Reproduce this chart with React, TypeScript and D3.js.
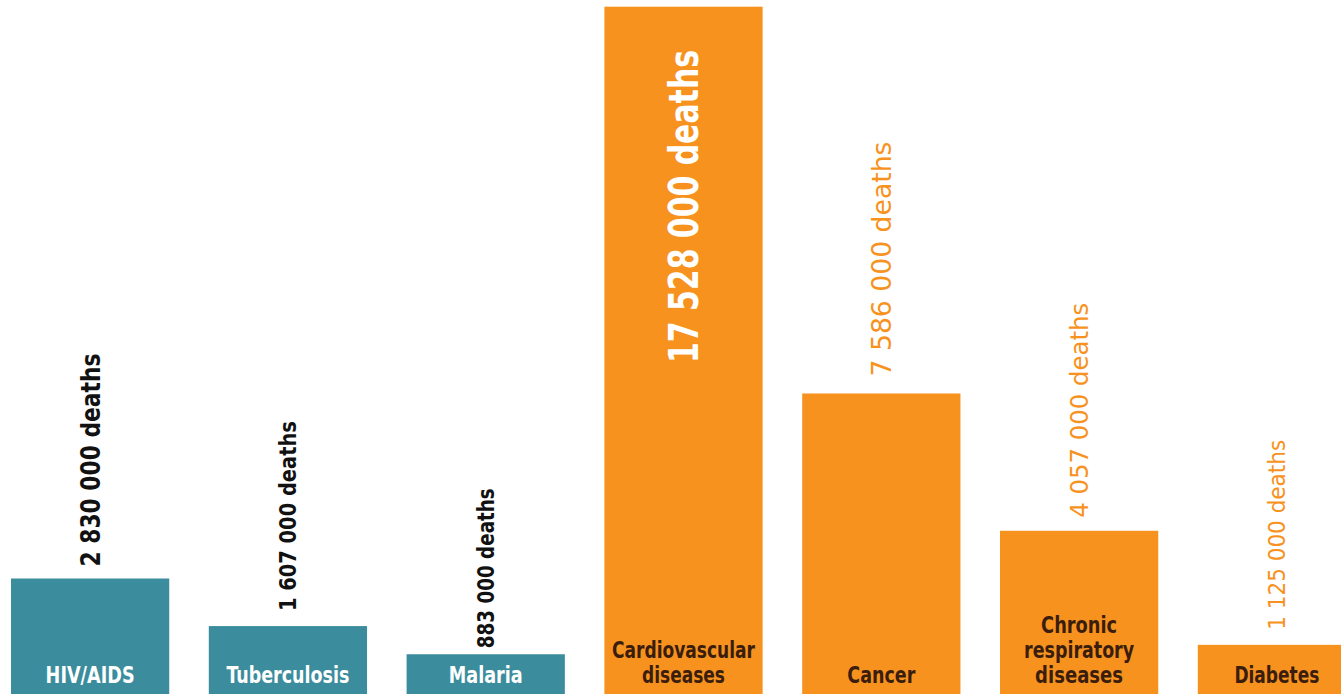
import React from "react";
import * as d3 from "d3";

const categories = [
  "HIV/AIDS",
  "Tuberculosis",
  "Malaria",
  "Cardiovascular diseases",
  "Cancer",
  "Chronic respiratory diseases",
  "Diabetes",
];
const deaths = [2830000, 1607000, 883000, 17528000, 7586000, 4057000, 1125000];
const valueLabels = [
  "2 830 000 deaths",
  "1 607 000 deaths",
  "883 000 deaths",
  "17 528 000 deaths",
  "7 586 000 deaths",
  "4 057 000 deaths",
  "1 125 000 deaths",
];
const groupOf = ["infectious", "infectious", "infectious", "ncd", "ncd", "ncd", "ncd"];
const categoryLines = [
  ["HIV/AIDS"],
  ["Tuberculosis"],
  ["Malaria"],
  ["Cardiovascular", "diseases"],
  ["Cancer"],
  ["Chronic", "respiratory", "diseases"],
  ["Diabetes"],
];

// styling (kept apart from the data)
const W = 1341;
const H = 698;
const barColor: Record<string, string> = { infectious: "#3b8d9d", ncd: "#f7921e" };
const catTextColor: Record<string, string> = { infectious: "#ffffff", ncd: "#3a1d0c" };
const valueStyle = [
  { size: 27, len: 213, color: "#111111", weight: 700, gap: 12, inside: false },
  { size: 23, len: 190, color: "#111111", weight: 700, gap: 15, inside: false },
  { size: 23, len: 160, color: "#111111", weight: 700, gap: 6, inside: false },
  { size: 40, len: 313, color: "#ffffff", weight: 700, gap: 0, inside: true },
  { size: 27, len: 235, color: "#f7921e", weight: 400, gap: 17, inside: false },
  { size: 25, len: 215, color: "#f7921e", weight: 400, gap: 13, inside: false },
  { size: 23, len: 190, color: "#f7921e", weight: 400, gap: 15, inside: false },
];
const catWidths = [[89], [123], [74], [143, 83], [68], [76, 110, 88], [85]];
const FONT = "'Liberation Sans Narrow', 'DejaVu Sans Condensed', 'Arial Narrow', sans-serif";

export default function App() {
  const x = d3
    .scaleBand<string>()
    .domain(categories)
    .range([11, 11 + 6.8 * 197.8 / (1 - 0.2) * 0.8 + 0.2 * 197.8 * 0 ])
    .paddingInner(0.2)
    .paddingOuter(0);
  // recompute range so that step ≈ 197.8 px
  const step = 197.8;
  x.range([11, 11 + step * 7 - step * 0.2]);

  const y = d3.scaleLinear().domain([0, d3.max(deaths) as number]).range([688.6, 6.7]);
  const barBottom = 694;

  return (
    <svg
      width={W}
      height={H}
      style={{ position: "absolute", left: 0, top: 0, background: "#ffffff" }}
      fontFamily={FONT}
    >
      <rect x={0} y={0} width={W} height={H} fill="#ffffff" />
      {categories.map((c, i) => {
        const x0 = x(c) as number;
        const bw = x.bandwidth();
        const cx = x0 + bw / 2;
        const top = y(deaths[i]);
        const g = groupOf[i];
        const vs = valueStyle[i];
        const lines = categoryLines[i];
        const lineH = 25;
        const lastBase = 683;
        const labelStart = vs.inside ? 363 : top - vs.gap;
        return (
          <g key={c}>
            <rect x={x0} y={top} width={bw} height={barBottom - top} fill={barColor[g]} />
            <text
              transform={`translate(${cx},${labelStart}) rotate(-90)`}
              textAnchor="start"
              dy="0.36em"
              fontSize={vs.size}
              fontWeight={vs.weight}
              fill={vs.color}
              textLength={vs.len}
              lengthAdjust="spacingAndGlyphs"
            >
              {valueLabels[i]}
            </text>
            {lines.map((ln, j) => (
              <text
                key={j}
                x={cx}
                y={lastBase - (lines.length - 1 - j) * lineH}
                textAnchor="middle"
                fontSize={23}
                fontWeight={700}
                fill={catTextColor[g]}
                textLength={catWidths[i][j]}
                lengthAdjust="spacingAndGlyphs"
              >
                {ln}
              </text>
            ))}
          </g>
        );
      })}
    </svg>
  );
}
